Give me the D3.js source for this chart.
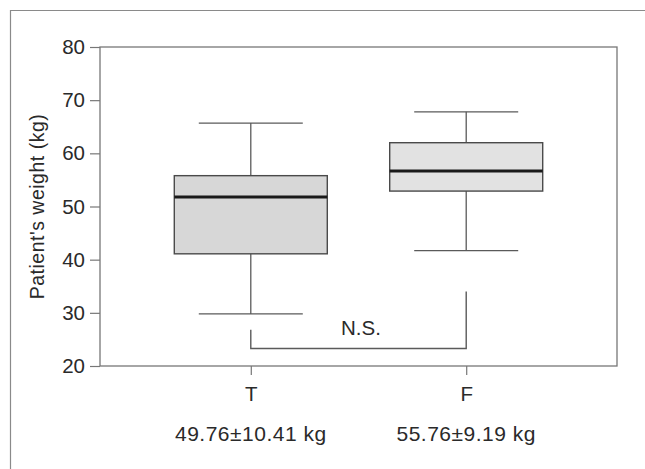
<!DOCTYPE html>
<html>
<head>
<meta charset="utf-8">
<script src="https://cdn.jsdelivr.net/npm/d3@7"></script>
<style>
  body { margin: 0; background: #fff; }
  text { font-family: "Liberation Sans", Arial, Helvetica, sans-serif; fill: #2a2a2a; }
</style>
</head>
<body>
<svg id="chart" width="645" height="469"></svg>
<script>
// values
let groups = ["T", "F"]
let whiskerLow = [29.8, 41.7]
let q1 = [41.1, 52.9]
let median = [51.8, 56.7]
let q3 = [55.8, 62.0]
let whiskerHigh = [65.7, 67.8]
let summaries = ["49.76\u00b110.41 kg", "55.76\u00b19.19 kg"]
let yTicks = [20, 30, 40, 50, 60, 70, 80]
let nsBracket = { leftTop: 26.8, rightTop: 34.0, bottom: 23.3, label: "N.S." }

let svg = d3.select("#chart")
let line = "#5a5a5a"

let margin = { left: 100, right: 28, top: 47, bottom: 103 }
let width = 645, height = 469

// outer frame (runs off the right and bottom)
svg.append("path")
  .attr("d", "M10.5,480 L10.5,10.5 L650,10.5")
  .attr("fill", "none")
  .attr("stroke", "#8a8a8a")
  .attr("stroke-width", 1.2)

let x = d3.scalePoint()
  .domain(groups)
  .range([margin.left, width - margin.right])
  .padding(0.7)

let y = d3.scaleLinear()
  .domain([20, 80])
  .range([height - margin.bottom, margin.top])

// plot box
svg.append("rect")
  .attr("x", margin.left)
  .attr("y", y(80))
  .attr("width", width - margin.right - margin.left)
  .attr("height", y(20) - y(80))
  .attr("fill", "none")
  .attr("stroke", "#777")
  .attr("stroke-width", 1.3)

// y axis
let yAxis = svg.append("g")
  .attr("transform", `translate(${margin.left},0)`)
  .call(d3.axisLeft(y).tickValues(yTicks).tickSize(10).tickPadding(5))
yAxis.select(".domain").remove()
yAxis.selectAll("line").attr("stroke", "#777").attr("stroke-width", 1.2)
yAxis.selectAll("text").attr("font-size", 20.5).attr("fill", "#2a2a2a")
  .style("font-family", '"Liberation Sans", Arial, sans-serif')

// x axis
let xAxis = svg.append("g")
  .attr("transform", `translate(0,${y(20)})`)
  .call(d3.axisBottom(x).tickSize(9).tickPadding(11))
xAxis.select(".domain").remove()
xAxis.selectAll("line").attr("stroke", "#777").attr("stroke-width", 1.2)
xAxis.selectAll("text").attr("font-size", 20.5).attr("fill", "#2a2a2a")
  .style("font-family", '"Liberation Sans", Arial, sans-serif')

// y title
svg.append("text")
  .attr("transform", `translate(44,${(y(20) + y(80)) / 2}) rotate(-90)`)
  .attr("text-anchor", "middle")
  .attr("font-size", 19.5)
  .attr("letter-spacing", 0.5)
  .text("Patient's weight (kg)")

// boxes
let boxW = 153, capW = 104
let fills = ["#d7d7d7", "#e2e2e2"]

groups.forEach((g, i) => {
  let cx = x(g)
  let grp = svg.append("g")

  grp.append("line")
    .attr("x1", cx).attr("x2", cx)
    .attr("y1", y(whiskerHigh[i])).attr("y2", y(q3[i]))
    .attr("stroke", line).attr("stroke-width", 1.3)
  grp.append("line")
    .attr("x1", cx).attr("x2", cx)
    .attr("y1", y(q1[i])).attr("y2", y(whiskerLow[i]))
    .attr("stroke", line).attr("stroke-width", 1.3)

  ;[whiskerHigh[i], whiskerLow[i]].forEach(v => {
    grp.append("line")
      .attr("x1", cx - capW / 2).attr("x2", cx + capW / 2)
      .attr("y1", y(v)).attr("y2", y(v))
      .attr("stroke", line).attr("stroke-width", 1.3)
  })

  grp.append("rect")
    .attr("x", cx - boxW / 2)
    .attr("y", y(q3[i]))
    .attr("width", boxW)
    .attr("height", y(q1[i]) - y(q3[i]))
    .attr("fill", fills[i])
    .attr("stroke", "#4a4a4a")
    .attr("stroke-width", 1.4)

  grp.append("line")
    .attr("x1", cx - boxW / 2).attr("x2", cx + boxW / 2)
    .attr("y1", y(median[i])).attr("y2", y(median[i]))
    .attr("stroke", "#1a1a1a").attr("stroke-width", 3)

  svg.append("text")
    .attr("x", cx)
    .attr("y", 441)
    .attr("text-anchor", "middle")
    .attr("font-size", 21)
    .attr("letter-spacing", 0.5)
    .text(summaries[i])
})

// N.S. bracket
let xl = x(groups[0]), xr = x(groups[1])
svg.append("path")
  .attr("d", `M${xl},${y(nsBracket.leftTop)} L${xl},${y(nsBracket.bottom)} L${xr},${y(nsBracket.bottom)} L${xr},${y(nsBracket.rightTop)}`)
  .attr("fill", "none")
  .attr("stroke", line)
  .attr("stroke-width", 1.4)

svg.append("text")
  .attr("x", 361)
  .attr("y", 335)
  .attr("text-anchor", "middle")
  .attr("font-size", 20.5)
  .text(nsBracket.label)
</script>
</body>
</html>
